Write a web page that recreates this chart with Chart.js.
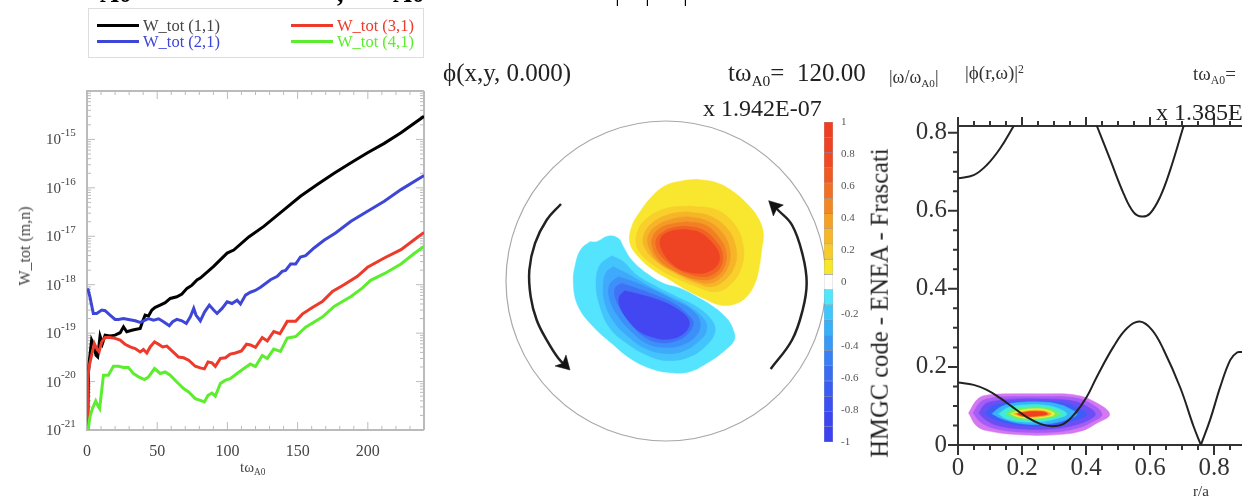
<!DOCTYPE html>
<html>
<head>
<meta charset="utf-8">
<title>HMGC</title>
<script src="https://cdn.jsdelivr.net/npm/chart.js@4"></script>
<style>
    html, body { margin: 0; padding: 0; background: #fff; overflow: hidden; }
    #page { position: relative; width: 1242px; height: 500px; overflow: hidden; filter: blur(0.6px); font-family: 'Liberation Serif', serif; }
    #page canvas { position: absolute; }
    .txt { position: absolute; white-space: nowrap; line-height: 1; }
    .txt sub { font-size: 0.62em; vertical-align: -0.35em; line-height: 0; }
    .txt sup { font-size: 0.62em; vertical-align: 0.55em; line-height: 0; }
    #legend { position: absolute; left: 88px; top: 8px; width: 334px; height: 48px; border: 1px solid #ddd; }
    .key { position: absolute; width: 42px; height: 3px; }
    .lab { position: absolute; font-size: 16.5px; line-height: 1; white-space: nowrap; }
</style>
</head>
<body>
<div id="page">
    <div id="legend"></div>
    <canvas id="growth" width="440" height="440" style="left:0;top:60px"></canvas>
    <canvas id="contour" width="340" height="340" style="left:490px;top:110px"></canvas>
    <canvas id="colorbar" width="70" height="345" style="left:810px;top:110px"></canvas>
    <canvas id="spectrum" width="337" height="400" style="left:905px;top:100px"></canvas>

    <div class="txt" style="left:100px;top:-19px;font-size:26px;font-weight:bold">A0</div>
    <div class="txt" style="left:337px;top:-19px;font-size:26px;font-weight:bold">,</div>
    <div class="txt" style="left:393px;top:-19px;font-size:26px;font-weight:bold">A0</div>
    <div class="txt" style="left:615px;top:-19px;font-size:24px">|</div>
    <div class="txt" style="left:645px;top:-19px;font-size:24px">|</div>
    <div class="txt" style="left:683px;top:-19px;font-size:24px">|</div>

    <div class="txt" style="left:443px;top:60px;font-size:25px;color:#222">ϕ(x,y, 0.000)</div>
    <div class="txt" style="left:728px;top:60px;font-size:25px;color:#222">tω<sub>A0</sub>=&nbsp; 120.00</div>
    <div class="txt" style="left:703px;top:96px;font-size:24px;color:#222">x 1.942E-07</div>
    <div class="txt" style="left:889px;top:68px;font-size:18px;color:#333">|ω/ω<sub>A0</sub>|</div>
    <div class="txt" style="left:965px;top:63px;font-size:19px;color:#333">|ϕ(r,ω)|<sup>2</sup></div>
    <div class="txt" style="left:1193px;top:64px;font-size:19px;color:#333">tω<sub>A0</sub>=</div>
    <div class="txt" style="left:1156px;top:100px;font-size:24px;color:#222">x 1.385E-07</div>
    <div class="txt" style="left:880px;top:303px;font-size:24.6px;color:#222;transform:translate(-50%,-50%) rotate(-90deg)">HMGC code - ENEA - Frascati</div>
    <div class="txt" style="left:25px;top:246px;font-size:16px;color:#444;transform:translate(-50%,-50%) rotate(-90deg)">W_tot (m,n)</div>
    <div class="txt" style="left:240px;top:460px;font-size:15px;color:#444">tω<sub>A0</sub></div>
    <div class="txt" style="left:1193px;top:484px;font-size:15px;color:#333">r/a</div>
</div>

<script>
// ============= growth data =============================================
const seriesNames = ['W_tot (1,1)', 'W_tot (2,1)', 'W_tot (3,1)', 'W_tot (4,1)']
const seriesColors = ['#000000', '#3e46d8', '#ee3a2a', '#5cee2e']

const timeBlack = [0.5, 1, 1.7, 3.3, 5, 6.4, 7.6, 9.3, 11, 12.9, 16.4, 20, 23.6, 26, 28.3, 31.9, 34.3, 37.9, 39.5, 41.4, 43.8, 46.2, 48.6, 52.1, 55.7, 59.3, 64, 67.6, 71.2, 74.8, 78.3, 80.7, 90.2, 99.8, 104.5, 115.2, 125.9, 140.2, 152, 164, 176, 188, 199.8, 211.7, 223.6, 240]
const waveBlack = [9.8e-22, 1.47e-20, 2.76e-20, 7.2e-20, 5.65e-20, 3.5e-20, 3.24e-20, 8.7e-20, 6.1e-20, 9.1e-20, 8.7e-20, 9.1e-20, 1.02e-19, 1.35e-19, 1.07e-19, 1.15e-19, 1.19e-19, 1.25e-19, 1.72e-19, 2.36e-19, 2.25e-19, 3e-19, 3.4e-19, 3.8e-19, 4.25e-19, 5.2e-19, 5.65e-19, 6.4e-19, 8.4e-19, 9.8e-19, 1.25e-18, 1.37e-18, 2.4e-18, 4.5e-18, 5.2e-18, 9.7e-18, 1.6e-17, 3.5e-17, 6.7e-17, 1.17e-16, 2e-16, 3.3e-16, 5.3e-16, 8.3e-16, 1.37e-15, 3e-15]

const timeBlue = [0.5, 2.1, 4.5, 6.9, 10.5, 12.9, 16.4, 20, 22.4, 26, 29.5, 34.3, 37.9, 41.4, 43.8, 47.4, 51, 54.5, 58.6, 61, 64, 67.6, 70.7, 73.6, 76, 77.6, 80.7, 83.8, 87.1, 90.2, 92.6, 96.2, 99.8, 103.3, 106.9, 109.3, 112.9, 116.4, 119.8, 123.6, 130.7, 135.5, 139, 141.4, 145, 148.6, 152, 155.7, 161.7, 168.8, 177, 188, 199.8, 211.7, 223.6, 240]
const waveBlue = [8.4e-19, 5.6e-19, 2.55e-19, 2.55e-19, 3e-19, 2.9e-19, 2.36e-19, 1.92e-19, 1.92e-19, 2e-19, 1.92e-19, 1.8e-19, 1.66e-19, 1.86e-19, 2e-19, 1.86e-19, 1.98e-19, 1.72e-19, 1.42e-19, 1.72e-19, 1.92e-19, 1.8e-19, 1.58e-19, 2.18e-19, 3.24e-19, 2.36e-19, 1.8e-19, 2.76e-19, 3.8e-19, 3e-19, 2.55e-19, 3.24e-19, 4.45e-19, 4.1e-19, 4.8e-19, 4e-19, 6.1e-19, 7e-19, 7.6e-19, 8.9e-19, 1.27e-18, 1.49e-18, 1.88e-18, 1.98e-18, 2.68e-18, 2.68e-18, 3.74e-18, 3.98e-18, 5.74e-18, 8.26e-18, 1.17e-17, 2.05e-17, 3.3e-17, 5.3e-17, 9.2e-17, 1.8e-16]

const timeRed = [0.2, 0.5, 1.4, 3.3, 5.2, 6.9, 8.6, 10.5, 12.9, 16.4, 20, 23.6, 27.1, 30.7, 34.3, 37.9, 40.2, 42.6, 45, 48.1, 51, 53.8, 56.9, 60.5, 65.2, 68.8, 72.4, 77.1, 80.7, 83.6, 86.2, 89, 91.4, 95, 98.6, 102, 105.7, 110, 113.6, 116.4, 120, 124.8, 128.4, 133, 137.4, 142.6, 148.6, 153.3, 160.5, 167.6, 174.8, 183, 192.6, 199.8, 211.7, 223.6, 233, 240]
const waveRed = [8.7e-22, 1.07e-20, 2e-20, 3.5e-20, 6.1e-20, 4.8e-20, 4.1e-20, 6.6e-20, 8.1e-20, 8.1e-20, 7.8e-20, 7.2e-20, 5.9e-20, 5.2e-20, 4.8e-20, 4.1e-20, 4.6e-20, 3.9e-20, 5.2e-20, 6.6e-20, 5.9e-20, 5.2e-20, 5.4e-20, 4.3e-20, 3.2e-20, 3.1e-20, 2.76e-20, 2.07e-20, 1.92e-20, 1.83e-20, 2.55e-20, 2.43e-20, 2.07e-20, 3e-20, 3.1e-20, 3.7e-20, 3.9e-20, 4.3e-20, 5.9e-20, 5.7e-20, 5.1e-20, 8.1e-20, 6.9e-20, 1.08e-19, 9.7e-20, 1.75e-19, 1.75e-19, 2.47e-19, 3.4e-19, 4.5e-19, 7.3e-19, 1e-18, 1.49e-18, 2.29e-18, 3.56e-18, 5.3e-18, 8.5e-18, 1.2e-17]

const timeGreen = [0.5, 2.1, 3.8, 6.2, 7.6, 9, 11.7, 15.2, 18.8, 22.4, 26, 29.5, 33, 36.7, 41, 43.8, 48.1, 52.1, 55.7, 59.3, 64, 68.8, 72.4, 77.1, 80.7, 83.6, 86.2, 89, 91.4, 95, 98.6, 102, 106.9, 111.7, 116.4, 120, 124.8, 128.4, 133, 137.8, 142.6, 148.6, 155.7, 167.6, 176, 188, 196, 202, 211.7, 223.6, 233, 240]
const waveGreen = [9e-22, 1.86e-21, 2.76e-21, 3.98e-21, 3.24e-21, 2.76e-21, 1.35e-20, 1.35e-20, 2.07e-20, 2.07e-20, 1.95e-20, 1.95e-20, 1.47e-20, 1.25e-20, 1.1e-20, 1.25e-20, 1.86e-20, 1.47e-20, 1.58e-20, 1.35e-20, 9.8e-21, 7.2e-21, 6.1e-21, 4.45e-21, 4.1e-21, 3.8e-21, 5.2e-21, 5.8e-21, 5e-21, 9.1e-21, 1.07e-20, 1.15e-20, 1.47e-20, 1.86e-20, 2.3e-20, 2.04e-20, 3.45e-20, 3e-20, 4.7e-20, 4.2e-20, 7.9e-20, 8.5e-20, 1.33e-19, 2.15e-19, 3.56e-19, 5.7e-19, 8.5e-19, 1.23e-18, 1.69e-18, 2.68e-18, 4.4e-18, 6.2e-18]

const growthXTicks = [0, 50, 100, 150, 200]
const growthXMinor = [10, 20, 30, 40, 60, 70, 80, 90, 110, 120, 130, 140, 160, 170, 180, 190, 210, 220, 230]
const growthDecades = [-15, -16, -17, -18, -19, -20, -21]
const logMinorSteps = [2, 3, 4, 5, 6, 7, 8, 9]

// ============= contour outlines of phi(x,y), poloidal grid units =====================
const phiCentre = [528, 513]

const phiPos1 = [[620,208],[680,218],[730,245],[775,285],[805,325],[820,370],[815,420],[808,470],[795,520],[770,560],[735,582],[690,585],[640,565],[590,540],[540,510],[490,480],[445,440],[420,400],[425,350],[450,305],[490,255],[530,225],[580,212],[620,208]]
const phiPos2 = [[600,288],[680,300],[735,345],[760,410],[755,470],[725,520],[680,545],[620,530],[560,505],[490,465],[445,420],[440,375],[465,330],[530,295],[600,288]]
const phiPos3 = [[590,305],[660,318],[715,360],[738,415],[735,465],[705,510],[665,530],[620,520],[565,495],[500,455],[465,415],[460,380],[485,340],[540,312],[590,305]]
const phiPos4 = [[590,320],[650,332],[698,370],[720,420],[716,465],[690,505],[655,520],[615,512],[565,490],[505,455],[477,412],[474,378],[500,347],[550,326],[590,320]]
const phiPos5 = [[590,335],[645,345],[685,380],[708,425],[703,470],[678,500],[645,510],[590,500],[545,478],[510,452],[488,415],[488,380],[515,352],[555,340],[590,335]]
const phiPos6 = [[585,348],[635,358],[675,390],[697,430],[692,470],[665,495],[635,500],[590,490],[550,470],[520,445],[500,415],[500,385],[525,362],[555,352],[585,348]]
const phiPos7 = [[585,358],[630,368],[668,400],[688,435],[682,465],[655,485],[625,490],[575,480],[540,455],[518,425],[510,400],[515,380],[535,366],[560,360],[585,358]]

const phiNeg1 = [[300,395],[320,395],[355,378],[385,385],[400,410],[425,450],[470,490],[520,520],[570,535],[620,560],[670,590],[710,625],[730,660],[733,690],[700,725],[650,760],[600,785],[540,788],[480,775],[420,745],[365,700],[310,650],[265,590],[250,520],[258,455],[275,415],[300,395]]
const phiNeg2 = [[365,437],[400,455],[440,495],[500,530],[560,560],[620,590],[665,630],[675,665],[650,705],[600,740],[530,752],[470,735],[410,700],[360,655],[330,590],[318,520],[330,465],[365,437]]
const phiNeg3 = [[370,470],[410,490],[470,525],[530,555],[590,585],[640,625],[650,660],[625,695],[575,725],[520,730],[465,715],[415,680],[375,640],[345,580],[340,520],[350,485],[370,470]]
const phiNeg4 = [[385,500],[430,515],[490,540],[550,570],[605,600],[630,635],[620,675],[575,705],[520,712],[470,700],[425,665],[385,620],[360,570],[358,525],[385,500]]
const phiNeg5 = [[395,520],[440,535],[495,555],[550,580],[595,615],[610,640],[590,675],[550,695],[510,698],[470,685],[430,650],[400,610],[378,570],[375,535],[395,520]]
const phiNeg6 = [[405,542],[445,552],[500,568],[550,590],[590,620],[598,645],[575,675],[530,688],[490,682],[445,662],[410,625],[390,590],[388,560],[405,542]]

const arrowLeft = [[213,282],[170,330],[135,400],[118,480],[122,560],[140,630],[170,690],[205,745],[232,772]]
const arrowRight = [[842,777],[906,690],[938,600],[950,519],[938,435],[906,345],[861,297],[846,279]]
const headLeft = [[240,780],[195,768],[218,760],[228,735],[240,780]]
const headRight = [[836,272],[880,285],[860,297],[850,318],[836,272]]

// ============= colour bar =====================
const barEdges = [1, 0.905, 0.81, 0.714, 0.619, 0.524, 0.429, 0.333, 0.238, 0.143, 0.048, -0.048, -0.143, -0.238, -0.333, -0.429, -0.524, -0.619, -0.714, -0.81, -0.905, -1]
const barColors = ['#ee3f22', '#ee4323', '#ef4a23', '#ef5a23', '#f07024', '#f18824', '#f4a226', '#f6b728', '#f7cc2a', '#f8e62a', '#ffffff', '#52e6fc', '#3fc6fa', '#38b0f8', '#3899f6', '#3880f4', '#3a6cf2', '#3a5cf1', '#3b50f0', '#3c46f0', '#3c42f0']
const barTicks = [1, 0.8, 0.6, 0.4, 0.2, 0, -0.2, -0.4, -0.6, -0.8, -1]

// ============= frequency spectrum, continuum curves and |phi(r,w)|^2 =====================
const contTopA = [[0,0.683],[0.049,0.691],[0.09,0.717],[0.132,0.76],[0.174,0.817]]
const contTopB = [[0.434,0.817],[0.476,0.73],[0.5175,0.644],[0.549,0.596],[0.575,0.585],[0.6,0.593],[0.632,0.636],[0.663,0.704],[0.705,0.817]]
const contLowA = [[0,0.16],[0.049,0.154],[0.09,0.141],[0.132,0.12],[0.174,0.095],[0.216,0.071],[0.257,0.054],[0.294,0.048],[0.33,0.054],[0.367,0.082],[0.403,0.124],[0.434,0.175],[0.486,0.252],[0.528,0.299],[0.5675,0.316],[0.606,0.295],[0.6425,0.244],[0.695,0.146],[0.736,0.048],[0.759,0]]
const contLowB = [[0.759,0],[0.788,0.065],[0.82,0.15],[0.851,0.218],[0.872,0.237],[0.888,0.238]]

const spec1 = [[0.033,0.082],[0.059,0.116],[0.085,0.127],[0.163,0.131],[0.268,0.131],[0.361,0.129],[0.424,0.112],[0.474,0.079],[0.434,0.056],[0.382,0.035],[0.299,0.026],[0.195,0.026],[0.101,0.035],[0.059,0.048],[0.033,0.082]]
const spec2 = [[0.047,0.082],[0.07,0.11],[0.1,0.12],[0.174,0.124],[0.268,0.124],[0.356,0.122],[0.413,0.107],[0.45,0.079],[0.419,0.059],[0.372,0.043],[0.299,0.033],[0.195,0.033],[0.111,0.043],[0.07,0.059],[0.047,0.082]]
const spec3 = [[0.065,0.082],[0.085,0.105],[0.117,0.113],[0.184,0.118],[0.268,0.118],[0.351,0.114],[0.398,0.101],[0.429,0.079],[0.403,0.062],[0.361,0.05],[0.294,0.041],[0.2,0.041],[0.122,0.05],[0.085,0.065],[0.065,0.082]]
const spec4 = [[0.085,0.08],[0.106,0.099],[0.143,0.107],[0.195,0.112],[0.268,0.112],[0.335,0.107],[0.372,0.095],[0.403,0.079],[0.372,0.065],[0.33,0.056],[0.278,0.049],[0.205,0.049],[0.137,0.059],[0.106,0.069],[0.085,0.08]]
const spec5 = [[0.106,0.08],[0.132,0.097],[0.179,0.108],[0.268,0.11],[0.32,0.103],[0.351,0.092],[0.372,0.079],[0.34,0.065],[0.288,0.055],[0.205,0.054],[0.143,0.065],[0.106,0.08]]
const spec6 = [[0.127,0.08],[0.158,0.096],[0.216,0.103],[0.273,0.102],[0.315,0.093],[0.34,0.079],[0.309,0.068],[0.257,0.06],[0.195,0.06],[0.148,0.068],[0.127,0.08]]
const spec7 = [[0.148,0.08],[0.179,0.092],[0.231,0.097],[0.273,0.096],[0.304,0.088],[0.32,0.079],[0.288,0.069],[0.242,0.065],[0.189,0.066],[0.148,0.08]]
const spec8 = [[0.163,0.08],[0.195,0.089],[0.242,0.093],[0.278,0.09],[0.302,0.079],[0.273,0.071],[0.231,0.068],[0.189,0.071],[0.163,0.08]]
const spec9 = [[0.174,0.08],[0.205,0.086],[0.247,0.089],[0.276,0.086],[0.291,0.079],[0.262,0.073],[0.226,0.071],[0.195,0.074],[0.174,0.08]]
const spec10 = [[0.184,0.08],[0.216,0.085],[0.252,0.086],[0.273,0.084],[0.28,0.079],[0.257,0.075],[0.221,0.073],[0.195,0.075],[0.184,0.08]]

const specXTicks = [0, 0.2, 0.4, 0.6, 0.8]
const specXMinor = [0.05, 0.1, 0.15, 0.25, 0.3, 0.35, 0.45, 0.5, 0.55, 0.65, 0.7, 0.75, 0.85]
const specYTicks = [0, 0.2, 0.4, 0.6, 0.8]
const specYMinor = [0.05, 0.1, 0.15, 0.25, 0.3, 0.35, 0.45, 0.5, 0.55, 0.65, 0.7, 0.75]

// ============= helpers =====================
const serif = 'Liberation Serif'
const toPoints = list => list.map(p => ({ x: p[0], y: p[1] }))
const zip = (xs, ys) => xs.map((x, i) => ({ x: x, y: ys[i] }))

// later entries paint on top
const paintOrder = sets => sets.map((d, i) => ({ ...d, order: sets.length - i }))

function blob(list, color) {
    return { data: toPoints(list), showLine: true, fill: 'shape', backgroundColor: color, borderColor: color, borderWidth: 0.5, pointRadius: 0, tension: 0.4 }
}

function curve(list, color, width) {
    return { data: toPoints(list), showLine: true, fill: false, borderColor: color, borderWidth: width, pointRadius: 0, tension: 0.4 }
}

// ticks that Chart.js cannot do natively: inward, both sides, minor
function tickMarks(list) {
    return {
        id: 'tickMarks',
        beforeDatasetsDraw(chart) {
            const ctx = chart.ctx
            const area = chart.chartArea
            ctx.save()
            list.forEach(m => {
                const scale = chart.scales[m.axis]
                ctx.strokeStyle = m.color
                ctx.lineWidth = m.width
                ctx.beginPath()
                m.values.forEach(v => {
                    const p = scale.getPixelForValue(v)
                    if (m.edge === 'top' || m.edge === 'bottom') {
                        const y = m.edge === 'top' ? area.top : area.bottom
                        ctx.moveTo(p, y)
                        ctx.lineTo(p, y + m.len)
                    } else {
                        const x = m.edge === 'left' ? area.left : area.right
                        ctx.moveTo(x, p)
                        ctx.lineTo(x + m.len, p)
                    }
                })
                ctx.stroke()
            })
            ctx.restore()
        }
    }
}

function frame(color, width, sides) {
    return {
        id: 'frame',
        beforeDatasetsDraw(chart) {
            const ctx = chart.ctx
            const a = chart.chartArea
            ctx.save()
            ctx.strokeStyle = color
            ctx.lineWidth = width
            ctx.beginPath()
            if (sides.includes('l')) { ctx.moveTo(a.left, a.top); ctx.lineTo(a.left, a.bottom) }
            if (sides.includes('r')) { ctx.moveTo(a.right, a.top); ctx.lineTo(a.right, a.bottom) }
            if (sides.includes('t')) { ctx.moveTo(a.left - width / 2, a.top); ctx.lineTo(a.right, a.top) }
            if (sides.includes('b')) { ctx.moveTo(a.left - width / 2, a.bottom); ctx.lineTo(a.right, a.bottom) }
            ctx.stroke()
            ctx.restore()
        }
    }
}

// 10 with a raised exponent, no way to get that from a tick callback
const decadeLabels = {
    id: 'decadeLabels',
    afterDraw(chart) {
        const ctx = chart.ctx
        const y = chart.scales.y
        ctx.save()
        ctx.fillStyle = '#444'
        ctx.textBaseline = 'middle'
        ctx.textAlign = 'left'
        growthDecades.forEach(e => {
            const p = y.getPixelForValue(Number('1e' + e))
            ctx.font = '15px "' + serif + '"'
            ctx.fillText('10', 46, p + 1)
            ctx.font = '11px "' + serif + '"'
            ctx.fillText(String(e), 61, p - 6)
        })
        ctx.restore()
    }
}

// ============= legend =====================
const legend = document.getElementById('legend')
const legendSlots = [[8, 15], [8, 31], [202, 15], [202, 31]]
seriesNames.forEach((name, i) => {
    const key = document.createElement('div')
    key.className = 'key'
    key.style.left = legendSlots[i][0] + 'px'
    key.style.top = legendSlots[i][1] + 'px'
    key.style.background = seriesColors[i]
    legend.appendChild(key)
    const lab = document.createElement('div')
    lab.className = 'lab'
    lab.textContent = name
    lab.style.left = (legendSlots[i][0] + 46) + 'px'
    lab.style.top = (legendSlots[i][1] - 6) + 'px'
    lab.style.color = i === 0 ? '#444' : seriesColors[i]
    legend.appendChild(lab)
})

// ============= growth rates =====================
const growthSeries = [zip(timeBlack, waveBlack), zip(timeBlue, waveBlue), zip(timeRed, waveRed), zip(timeGreen, waveGreen)]
const minorLog = []
growthDecades.concat([-14]).forEach(e => {
    if (e > -21) logMinorSteps.forEach(s => minorLog.push(Number(s + 'e' + (e - 1))))
})
const decadeValues = growthDecades.map(e => Number('1e' + e))

new Chart(document.getElementById('growth'), {
    type: 'scatter',
    data: {
        datasets: paintOrder(growthSeries.map((pts, i) => ({
            label: seriesNames[i],
            data: pts,
            showLine: true,
            borderColor: seriesColors[i],
            backgroundColor: seriesColors[i],
            borderWidth: 3,
            pointRadius: 0,
            tension: 0
        })))
    },
    options: {
        responsive: false,
        animation: false,
        layout: { padding: { top: 31, right: 16, left: 0, bottom: 0 } },
        plugins: { legend: { display: false }, tooltip: { enabled: false } },
        scales: {
            x: {
                type: 'linear', min: 0, max: 240,
                afterBuildTicks: s => { s.ticks = growthXTicks.map(v => ({ value: v })) },
                afterFit: s => { s.height = 70 },
                grid: { display: false }, border: { display: false },
                ticks: { color: '#444', padding: 4, maxRotation: 0, autoSkip: false, font: { family: serif, size: 16 } }
            },
            y: {
                type: 'logarithmic', min: 1e-21, max: 1e-14,
                afterFit: s => { s.width = 87 },
                grid: { display: false }, border: { display: false },
                ticks: { display: false }
            }
        }
    },
    plugins: [
        frame('#bbbbbb', 2, 'lrtb'),
        tickMarks([
            { axis: 'x', values: growthXTicks, edge: 'bottom', len: -8, color: '#bbb', width: 1 },
            { axis: 'x', values: growthXMinor, edge: 'bottom', len: -4, color: '#bbb', width: 1 },
            { axis: 'x', values: growthXTicks, edge: 'top', len: 8, color: '#bbb', width: 1 },
            { axis: 'x', values: growthXMinor, edge: 'top', len: 4, color: '#bbb', width: 1 },
            { axis: 'y', values: decadeValues, edge: 'left', len: 8, color: '#bbb', width: 1 },
            { axis: 'y', values: minorLog, edge: 'left', len: 4, color: '#bbb', width: 1 },
            { axis: 'y', values: decadeValues, edge: 'right', len: -8, color: '#bbb', width: 1 },
            { axis: 'y', values: minorLog, edge: 'right', len: -4, color: '#bbb', width: 1 }
        ]),
        decadeLabels
    ]
})

// ============= contour map =====================
const wallCircle = {
    data: [{ x: phiCentre[0], y: phiCentre[1] }],
    showLine: false, clip: false, pointRadius: 160, pointBackgroundColor: 'rgba(0,0,0,0)', pointBorderColor: '#a8a8a8', pointBorderWidth: 1.2
}

new Chart(document.getElementById('contour'), {
    type: 'scatter',
    data: {
        datasets: paintOrder([
            wallCircle,
            blob(phiPos1, '#f8e62f'), blob(phiPos2, '#f8cf2b'), blob(phiPos3, '#f6b428'), blob(phiPos4, '#f49a26'),
            blob(phiPos5, '#f37f24'), blob(phiPos6, '#f16223'), blob(phiPos7, '#ee4423'),
            blob(phiNeg1, '#55e4fd'), blob(phiNeg2, '#44c4fc'), blob(phiNeg3, '#3fa9fb'), blob(phiNeg4, '#3d8ff9'),
            blob(phiNeg5, '#3f72f5'), blob(phiNeg6, '#4247f2'),
            curve(arrowLeft, '#222222', 2.5), curve(arrowRight, '#222222', 2.5),
            { ...blob(headLeft, '#111111'), tension: 0 }, { ...blob(headRight, '#111111'), tension: 0 }
        ])
    },
    options: {
        responsive: false,
        animation: false,
        layout: { autoPadding: false },
        plugins: { legend: { display: false }, tooltip: { enabled: false } },
        scales: {
            x: { type: 'linear', min: 0, max: 1020, display: false },
            y: { type: 'linear', min: 0, max: 1020, reverse: true, display: false }
        }
    }
})

// ============= colour bar =====================
new Chart(document.getElementById('colorbar'), {
    type: 'bar',
    data: {
        labels: ['phi'],
        datasets: barColors.map((c, i) => ({
            data: [[barEdges[i + 1], barEdges[i]]],
            backgroundColor: c,
            borderColor: 'rgba(70,70,90,0.45)',
            borderWidth: 0.6,
            borderSkipped: false,
            categoryPercentage: 1,
            barPercentage: 1
        }))
    },
    options: {
        responsive: false,
        animation: false,
        layout: { padding: { top: 12, bottom: 13, left: 14, right: 0 } },
        plugins: { legend: { display: false }, tooltip: { enabled: false } },
        scales: {
            x: { stacked: true, display: false },
            y: {
                min: -1, max: 1, position: 'right',
                afterBuildTicks: s => { s.ticks = barTicks.map(v => ({ value: v })) },
                afterFit: s => { s.width = 47 },
                grid: { display: false }, border: { display: false },
                ticks: { color: '#555', padding: 0, font: { family: serif, size: 11 }, autoSkip: false, callback: v => String(v) }
            }
        }
    }
})

// ============= spectrum =====================
const ink = '#333333'
const specColors = ['#d478f2', '#a65cf6', '#6a50f4', '#3d5cf8', '#38b4fb', '#40ecd8', '#70f060', '#e8f038', '#f8a028', '#f04020']
const specRings = [spec1, spec2, spec3, spec4, spec5, spec6, spec7, spec8, spec9, spec10]

new Chart(document.getElementById('spectrum'), {
    type: 'scatter',
    data: {
        datasets: paintOrder([
            ...specRings.map((r, i) => blob(r, specColors[i])),
            curve(contTopA, '#222222', 2), curve(contTopB, '#222222', 2),
            curve(contLowA, '#222222', 2), curve(contLowB, '#222222', 2)
        ])
    },
    options: {
        responsive: false,
        animation: false,
        layout: { padding: { top: 26, right: 0, left: 0, bottom: 0 } },
        plugins: { legend: { display: false }, tooltip: { enabled: false } },
        scales: {
            x: {
                type: 'linear', min: 0, max: 0.8875,
                afterBuildTicks: s => { s.ticks = specXTicks.map(v => ({ value: v })) },
                afterFit: s => { s.height = 55 },
                grid: { display: false }, border: { display: false },
                ticks: { color: '#333', padding: 0, maxRotation: 0, autoSkip: false, font: { family: serif, size: 25 }, callback: v => String(v) }
            },
            y: {
                type: 'linear', min: 0, max: 0.817,
                afterBuildTicks: s => { s.ticks = specYTicks.map(v => ({ value: v })) },
                afterFit: s => { s.width = 53 },
                grid: { display: false }, border: { display: false },
                ticks: { color: '#333', padding: 3, autoSkip: false, font: { family: serif, size: 25 }, callback: v => String(v) }
            }
        }
    },
    plugins: [
        frame(ink, 2, 'ltb'),
        tickMarks([
            { axis: 'x', values: specXTicks, edge: 'bottom', len: 10, color: ink, width: 2 },
            { axis: 'x', values: specXMinor, edge: 'bottom', len: 5, color: ink, width: 2 },
            { axis: 'x', values: specXTicks, edge: 'top', len: -9, color: ink, width: 2 },
            { axis: 'x', values: specXMinor, edge: 'top', len: -5, color: ink, width: 2 },
            { axis: 'y', values: specYTicks, edge: 'left', len: -10, color: ink, width: 2 },
            { axis: 'y', values: specYMinor, edge: 'left', len: -5, color: ink, width: 2 }
        ])
    ]
})
</script>
</body>
</html>
